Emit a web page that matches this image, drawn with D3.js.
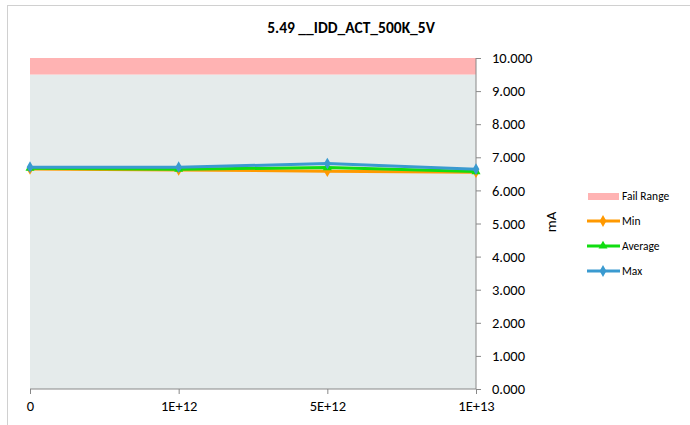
<!DOCTYPE html>
<html><head><meta charset="utf-8">
<script src="https://cdn.jsdelivr.net/npm/d3@7"></script>
<style>body{margin:0;background:#fff}svg{display:block;font-family:Calibri,Carlito,Lato,"Open Sans",sans-serif}</style>
</head><body><svg id="c" width="690" height="425"></svg>
<script>
const title = "5.49 __IDD_ACT_500K_5V";
const categories = ["0", "1E+12", "5E+12", "1E+13"];
const minVals = [6.65, 6.62, 6.58, 6.55];
const avgVals = [6.67, 6.64, 6.69, 6.57];
const maxVals = [6.70, 6.70, 6.81, 6.64];
const failRange = [9.5, 10];
const yTicks = [0,1,2,3,4,5,6,7,8,9,10];
const yLabel = "mA";
const series = [
  {name:"Min", values:minVals, color:"#FF9900", marker:"diamond"},
  {name:"Average", values:avgVals, color:"#11DD11", marker:"triangle"},
  {name:"Max", values:maxVals, color:"#3A9AD0", marker:"diamond"}
];

const svg = d3.select("#c");
svg.append("rect").attr("x",7.5).attr("y",5.5).attr("width",700).attr("height",440)
  .attr("fill","#fff").attr("stroke","#d0d0d0");

const L=30,R=476,T=58,B=389;
const x = d3.scalePoint().domain(categories).range([L,R]);
const y = d3.scaleLinear().domain([0,10]).range([B,T]);

svg.append("rect").attr("x",L).attr("y",y(failRange[0])).attr("width",R-L).attr("height",y(0)-y(failRange[0])).attr("fill","#E5EBEB");
svg.append("rect").attr("x",L).attr("y",y(failRange[1])).attr("width",R-L).attr("height",y(failRange[0])-y(failRange[1])).attr("fill","#FFB3B3");

const ya = svg.append("g").attr("transform",`translate(${R},0)`)
  .call(d3.axisRight(y).tickValues(yTicks).tickFormat(d3.format(".3f")).tickSize(5).tickPadding(11));
ya.select(".domain").attr("stroke","#888").attr("d",`M0,${T}V${B}`);
ya.selectAll(".tick line").attr("stroke","#888");
ya.selectAll("text").attr("font-size",14.5).attr("fill","#000").attr("font-family","Calibri,Carlito,Lato,sans-serif");

const xa = svg.append("g").attr("transform",`translate(0,${B})`)
  .call(d3.axisBottom(x).tickSize(5).tickPadding(7));
xa.select(".domain").attr("stroke","#888").attr("d",`M${L},0H${R}`);
xa.selectAll(".tick line").attr("stroke","#888");
xa.selectAll("text").attr("font-size",14.5).attr("fill","#000").attr("font-family","Calibri,Carlito,Lato,sans-serif");

svg.append("text").attr("x",351).attr("y",33).attr("text-anchor","middle")
  .attr("font-size",15.5).attr("font-weight","bold").text(title);
svg.append("text").attr("transform","translate(556,222) rotate(-90)").attr("text-anchor","middle")
  .attr("font-size",15).text(yLabel);

const line = d3.line().x((d,i)=>x(categories[i])).y(d=>y(d));
const sym = {diamond:d3.symbol().type(d3.symbolDiamond).size(40), triangle:d3.symbol().type(d3.symbolTriangle).size(35)};
series.forEach(s=>{
  svg.append("path").datum(s.values).attr("d",line).attr("fill","none").attr("stroke",s.color).attr("stroke-width",3);
  svg.selectAll(null).data(s.values).enter().append("path")
    .attr("transform",(d,i)=>`translate(${x(categories[i])},${y(d)})`)
    .attr("d",sym[s.marker]()).attr("fill",s.color);
});

// legend
const lg = svg.append("g").attr("font-size",11.5);
lg.append("rect").attr("x",588).attr("y",193).attr("width",31).attr("height",7).attr("fill","#FFB3B3");
lg.append("text").attr("x",622).attr("y",200).text("Fail Range");
series.forEach((s,i)=>{
  const yy = 221 + i*25;
  lg.append("line").attr("x1",587).attr("x2",620).attr("y1",yy).attr("y2",yy).attr("stroke",s.color).attr("stroke-width",3);
  lg.append("path").attr("transform",`translate(603,${yy})`).attr("d",sym[s.marker]()).attr("fill",s.color);
  lg.append("text").attr("x",622).attr("y",yy+4).text(s.name);
});
</script></body></html>
